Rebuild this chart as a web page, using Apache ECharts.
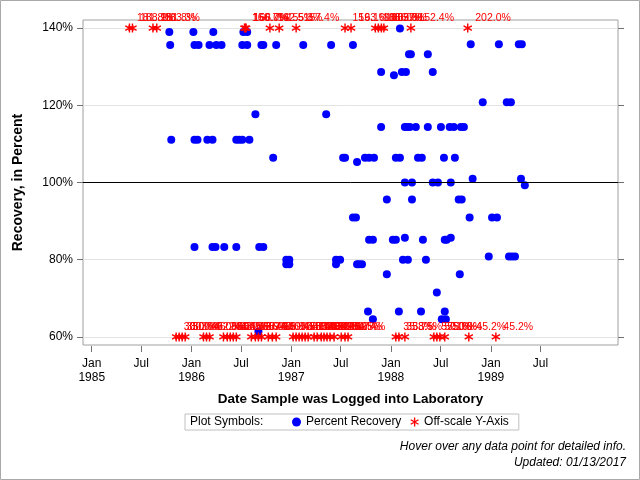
<!DOCTYPE html>
<html>
<head>
<meta charset="utf-8">
<script src="https://cdn.jsdelivr.net/npm/echarts@6/dist/echarts.min.js"></script>
<style>
html,body{margin:0;padding:0;background:#fff;}
#chart{width:640px;height:480px;}
</style>
</head>
<body>
<div id="chart"></div>
<script>
// ---------- DATA ----------
// Percent recovery points (in scale)
const recDates = [
  '1985-10-12','1986-01-08','1986-03-22','1986-07-10','1986-07-24',
  '1988-02-03',
  '1985-10-15','1986-01-12','1986-01-27','1986-03-08','1986-04-02','1986-04-21','1986-07-06','1986-07-24','1986-09-14','1986-09-21','1986-11-07','1987-02-14','1987-05-27','1987-08-15',
  '1988-10-19','1989-01-30','1989-04-13','1989-04-24',
  '1988-03-07','1988-03-14','1988-05-15',
  '1987-11-26','1988-02-10','1988-02-25','1988-06-02',
  '1988-01-12',
  '1988-12-02','1989-02-28','1989-03-15',
  '1986-08-23','1987-05-09',
  '1987-11-26','1988-02-21','1988-02-28','1988-03-10','1988-04-01','1988-05-15','1988-07-02','1988-08-03','1988-08-18','1988-09-13','1988-09-24',
  '1985-10-19','1986-01-12','1986-01-23','1986-02-28','1986-03-19','1986-06-14','1986-06-25','1986-07-06','1986-08-01',
  '1986-10-27','1987-07-10','1987-07-17','1987-09-28','1987-10-13','1987-10-31','1988-01-19','1988-02-03','1988-04-09','1988-04-23','1988-07-13','1988-08-22',
  '1987-08-30',
  '1988-10-26','1989-04-21',
  '1988-02-21','1988-03-18','1988-06-02','1988-06-21','1988-08-07',
  '1989-05-05',
  '1987-12-17','1988-03-18','1988-09-05','1988-09-16',
  '1987-08-15','1987-08-26','1988-10-15','1989-01-05','1989-01-23',
  '1988-02-21','1988-08-07',
  '1987-10-13','1987-10-27','1988-01-08','1988-01-19','1988-04-27','1988-07-16','1988-07-23',
  '1986-01-12','1986-03-19','1986-03-30','1986-05-01','1986-06-14','1986-09-06','1986-09-21',
  '1988-12-24','1989-03-08','1989-03-19','1989-03-30',
  '1986-12-14','1986-12-25','1987-06-14','1987-06-29','1988-02-14','1988-03-03','1988-05-08',
  '1986-12-14','1986-12-25','1987-06-14','1987-08-30','1987-09-06','1987-09-17',
  '1987-12-17','1988-09-09',
  '1988-06-17',
  '1987-10-09','1988-01-30','1988-04-20','1988-07-16',
  '1987-10-27','1988-07-05','1988-07-20',
  '1986-09-03'
];
const recValues = [
  139.0,139.0,139.0,139.0,139.0,
  139.9,
  135.6,135.6,135.6,135.6,135.6,135.6,135.6,135.6,135.6,135.6,135.6,135.6,135.6,135.6,
  135.8,135.8,135.8,135.8,
  133.2,133.2,133.2,
  128.6,128.6,128.6,128.6,
  127.8,
  120.8,120.8,120.8,
  117.7,117.7,
  114.4,114.4,114.4,114.4,114.4,114.4,114.4,114.4,114.4,114.4,114.4,
  111.1,111.1,111.1,111.1,111.1,111.1,111.1,111.1,111.1,
  106.4,106.4,106.4,106.4,106.4,106.4,106.4,106.4,106.4,106.4,106.4,106.4,
  105.3,
  101.0,101.0,
  100.0,100.0,100.0,100.0,100.0,
  99.3,
  95.6,95.6,95.6,95.6,
  90.9,90.9,90.9,90.9,90.9,
  85.7,85.7,
  85.2,85.2,85.2,85.2,85.2,85.2,85.2,
  83.3,83.3,83.3,83.3,83.3,83.3,83.3,
  80.8,80.8,80.8,80.8,
  80.0,80.0,80.0,80.0,80.0,80.0,80.0,
  78.8,78.8,78.8,78.8,78.8,78.8,
  76.2,76.2,
  71.5,
  66.6,66.6,66.6,66.6,
  64.6,64.6,64.6,
  61.4
];

// Off-scale high values (drawn at the top edge, labelled with the true value)
const highDates = [
  '1985-05-19','1985-05-30','1985-08-13','1985-08-27',
  '1986-07-14','1986-07-17','1986-07-20',
  '1986-10-15','1986-11-18','1987-01-19',
  '1987-07-17','1987-08-08',
  '1987-11-05','1987-11-16','1987-11-27','1987-12-06',
  '1988-03-14','1988-10-08'
];
const highValues = [
  181.8,188.9,181.8,183.3,
  166.7,150.0,166.7,
  142.5,155.3,157.4,
  159.1,163.6,
  188.9,180.0,166.7,183.3,
  152.4,202.0
];

// Off-scale low values (drawn at the bottom edge, labelled with the true value)
const lowDates = [
  '1985-11-06','1985-11-17','1985-11-28','1985-12-09',
  '1986-02-14','1986-02-25','1986-03-08',
  '1986-04-28','1986-05-12','1986-05-23','1986-06-03','1986-06-14',
  '1986-08-08','1986-08-23','1986-09-03','1986-09-14',
  '1986-10-09','1986-10-24','1986-11-07',
  '1987-01-08','1987-01-19','1987-01-30','1987-02-10','1987-02-21','1987-03-04',
  '1987-03-26','1987-04-06','1987-04-21','1987-05-01','1987-05-12','1987-05-23','1987-06-07',
  '1987-07-03','1987-07-17','1987-07-28',
  '1988-01-19','1988-01-30','1988-02-21',
  '1988-06-06','1988-06-17','1988-06-28','1988-07-16',
  '1988-10-12','1989-01-19'
];
const lowValues = [
  30.0,33.3,30.0,50.0,
  40.0,46.2,52.6,
  33.3,44.4,50.0,38.5,55.6,
  42.9,50.0,36.4,57.1,
  45.5,40.0,53.8,
  30.8,47.6,35.3,50.0,41.7,55.0,
  33.3,44.4,48.1,52.9,38.9,50.0,42.1,
  46.7,54.5,52.4,
  35.3,35.7,38.5,
  57.1,50.0,55.6,50.0,
  45.2,45.2
];

const yTicks = [60, 80, 100, 120, 140];
const xTickDates = ['1985-01-01','1985-07-01','1986-01-01','1986-07-01','1987-01-01','1987-07-01','1988-01-01','1988-07-01','1989-01-01','1989-07-01'];
const yMin = 57.9, yMax = 142.1;
const offHigh = 140, offLow = 60;
const xMin = '1984-11-30', xMax = '1990-04-11';

// ---------- CHART ----------
function ts(s){ const p = s.split('-').map(Number); return Date.UTC(p[0], p[1]-1, p[2]); }
const FONT = '"Liberation Sans", Arial, sans-serif';
const ASTER = 'path://M4.25,0L5.75,0L5.75,10L4.25,10Z' +
  'M1.045,1.85L9.705,6.85L8.955,8.15L0.295,3.15Z' +
  'M0.295,6.85L8.955,1.85L9.705,3.15L1.045,8.15Z';

const xTickVals = xTickDates.map(ts);
const chart = echarts.init(document.getElementById('chart'), null, {renderer: 'canvas'});

const redLabel = {
  show: true, position: 'right', distance: 3, offset: [0, -9.5],
  color: '#ff0000', fontSize: 10.5, fontFamily: FONT,
  formatter: p => p.data[2].toFixed(1) + '%'
};

chart.setOption({
  animation: false,
  backgroundColor: '#ffffff',
  textStyle: {fontFamily: FONT},
  grid: {left: 83, right: 22, top: 20, bottom: 135, show: true, borderColor: '#a0a0a0', borderWidth: 1, containLabel: false},
  xAxis: {
    type: 'value', min: ts(xMin), max: ts(xMax), offset: 1,
    axisLine: {show: false},
    axisTick: {show: true, length: 6, customValues: xTickVals, lineStyle: {color: '#707070'}},
    axisLabel: {
      customValues: xTickVals, margin: 10, color: '#000', fontSize: 12, lineHeight: 14.5, fontFamily: FONT,
      formatter: v => { const d = new Date(v); return d.getUTCMonth() === 0 ? 'Jan\n' + d.getUTCFullYear() : 'Jul'; }
    },
    splitLine: {show: false},
    name: 'Date Sample was Logged into Laboratory', nameLocation: 'middle', nameGap: 46,
    nameTextStyle: {fontWeight: 'bold', fontSize: 13.5, color: '#000', fontFamily: FONT}
  },
  yAxis: [{
    type: 'value', min: yMin, max: yMax,
    axisLine: {show: false},
    axisTick: {show: true, length: 6, customValues: yTicks, lineStyle: {color: '#707070'}},
    axisLabel: {customValues: yTicks, formatter: '{value}%', margin: 10, color: '#000', fontSize: 12, fontFamily: FONT},
    splitLine: {show: true, lineStyle: {color: '#e3e3e3', width: 1}},
    name: 'Recovery, in Percent', nameLocation: 'middle', nameGap: 58,
    nameTextStyle: {fontWeight: 'bold', fontSize: 14, color: '#000', fontFamily: FONT}
  }, {
    type: 'value', min: yMin, max: yMax, position: 'right',
    axisLine: {show: false},
    axisTick: {show: true, length: 6, customValues: yTicks, lineStyle: {color: '#707070'}},
    axisLabel: {show: false},
    splitLine: {show: false}
  }],
  legend: {
    left: 185, top: 414, orient: 'horizontal',
    padding: [2, 10, 2, 107], itemGap: 9, itemWidth: 9, itemHeight: 9,
    borderColor: '#c0c0c0', borderWidth: 1,
    textStyle: {color: '#000', fontSize: 12, fontFamily: FONT},
    data: [
      {name: 'Percent Recovery', icon: 'circle'},
      {name: 'Off-scale Y-Axis', icon: ASTER}
    ],
    selectedMode: false
  },
  series: [
    {
      name: 'Percent Recovery', type: 'scatter', symbol: 'circle', symbolSize: 8, z: 2,
      itemStyle: {color: '#0000ff', opacity: 1},
      data: recDates.map((d, i) => [ts(d), recValues[i]]),
      markLine: {
        silent: true, symbol: 'none', label: {show: false},
        lineStyle: {color: '#000', width: 1, type: 'solid', opacity: 1},
        data: [{yAxis: 100}]
      }
    },
    {
      name: 'Off-scale Y-Axis', type: 'scatter', symbol: ASTER, symbolSize: 9, z: 3,
      itemStyle: {color: '#ff0000', opacity: 1},
      label: redLabel,
      data: highDates.map((d, i) => [ts(d), offHigh, highValues[i]])
    },
    {
      name: 'Off-scale Y-Axis', type: 'scatter', symbol: ASTER, symbolSize: 9, z: 3,
      itemStyle: {color: '#ff0000', opacity: 1},
      label: redLabel,
      data: lowDates.map((d, i) => [ts(d), offLow, lowValues[i]])
    }
  ],
  graphic: [
    {type: 'rect', shape: {x: 0.5, y: 0.5, width: 639, height: 479}, style: {fill: 'none', stroke: '#a8a8a8', lineWidth: 1}, silent: true},
    {type: 'text', left: 190, top: 416, style: {text: 'Plot Symbols:', fill: '#000', font: '12px ' + FONT}},
    {type: 'text', right: 14, top: 441, style: {text: 'Hover over any data point for detailed info.', fill: '#000', font: 'italic 12px ' + FONT, align: 'right'}},
    {type: 'text', right: 14, top: 457, style: {text: 'Updated: 01/13/2017', fill: '#000', font: 'italic 12px ' + FONT, align: 'right'}}
  ]
});
</script>
</body>
</html>
